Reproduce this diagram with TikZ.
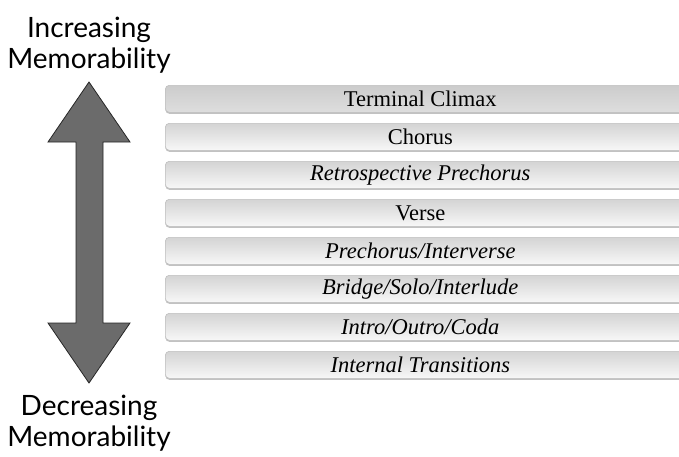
\documentclass[tikz,border=0pt]{standalone}
\usepackage{fontspec}
\setmainfont{Liberation Serif}
\newfontfamily\labelfont{Lato}
\usetikzlibrary{shadows}
\newcommand{\barlabel}[1]{\raisebox{-2pt}{\makebox[510pt]{#1}}\hspace*{20pt}}
\begin{document}
\begin{tikzpicture}[x=1pt,y=-1pt,
  barbox/.style={rounded corners=4pt, draw=black!25, line width=0.6pt,
    top color=black!17, bottom color=black!3, minimum height=27pt,
    minimum width=530pt, anchor=north west, inner sep=0pt,
    font=\fontsize{22.5}{24}\selectfont,
    drop shadow={shadow xshift=0pt, shadow yshift=-1.5pt, fill=black!40, opacity=0.6}},
  firstbar/.style={top color=black!20, bottom color=black!13},
  endlabel/.style={font=\labelfont\fontsize{28}{31.5}\selectfont, align=center, inner sep=0pt}
]
\useasboundingbox (0,0) rectangle (679,456);
\begin{scope}
\clip (0,0) rectangle (679,456);
\node[barbox, firstbar] (b1) at (165,85) {\barlabel{Terminal Climax}};
\node[barbox] (b2) at (165,123) {\barlabel{Chorus}};
\node[barbox] (b3) at (165,161) {\barlabel{\itshape Retrospective Prechorus}};
\node[barbox] (b4) at (165,199) {\barlabel{Verse}};
\node[barbox] (b5) at (165,237) {\barlabel{\itshape Prechorus/Interverse}};
\node[barbox] (b6) at (165,275) {\barlabel{\itshape Bridge/Solo/Interlude}};
\node[barbox] (b7) at (165,313) {\barlabel{\itshape Intro/Outro/Coda}};
\node[barbox] (b8) at (165,351) {\barlabel{\itshape Internal Transitions}};
\end{scope}
\draw[fill=black!58, draw=black!85, line width=0.8pt, line join=miter]
  (89,82) -- (130,142) -- (103,142) -- (103,323) -- (130,323) -- (89,383)
  -- (48,323) -- (76,323) -- (76,142) -- (48,142) -- cycle;
\node[endlabel] (top) at (89,45) {Increasing\\Memorability};
\node[endlabel] (bot) at (89,423) {Decreasing\\Memorability};
\end{tikzpicture}
\end{document}
